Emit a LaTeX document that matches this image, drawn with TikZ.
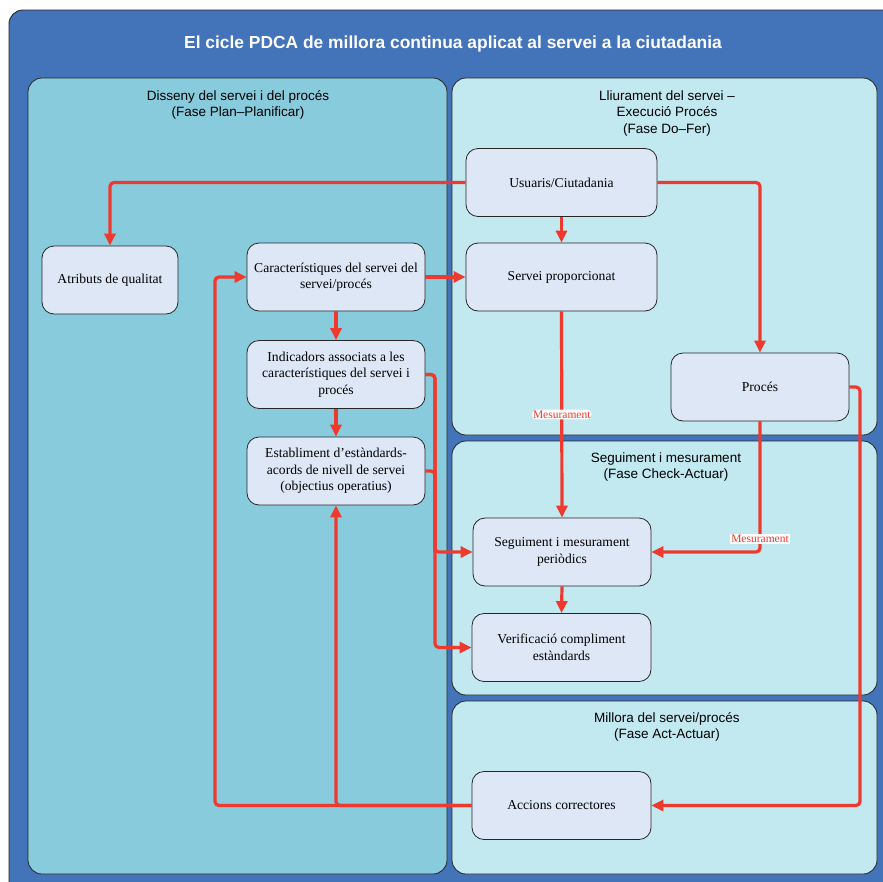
\documentclass[tikz,border=0pt]{standalone}
\usepackage{fontspec}
\setmainfont{Liberation Serif}
\newfontfamily\headfont{Liberation Sans}
\usetikzlibrary{arrows.meta}

\definecolor{frameblue}{HTML}{4373B9}
\definecolor{planfill}{HTML}{88CBDC}
\definecolor{phasefill}{HTML}{C2E8F0}
\definecolor{boxfill}{HTML}{DEE7F6}
\definecolor{flowred}{HTML}{EE3A2E}
\definecolor{edge}{HTML}{262626}

\tikzset{
  outerframe/.style={draw=edge, line width=0.9pt, fill=frameblue, rounded corners=14pt},
  planpanel/.style={draw=edge, line width=0.8pt, fill=planfill, rounded corners=14pt},
  phasepanel/.style={draw=edge, line width=0.8pt, fill=phasefill, rounded corners=14pt},
  stepbox/.style={draw=edge, line width=0.8pt, fill=boxfill, rounded corners=12pt,
    minimum height=68pt, align=center, inner sep=2pt,
    font=\fontsize{13.6pt}{16.5pt}\selectfont},
  phasetitle/.style={align=center, font=\headfont\fontsize{13.5pt}{16.5pt}\selectfont, inner sep=0pt},
  maintitle/.style={text=white, font=\headfont\bfseries\fontsize{17.4pt}{20pt}\selectfont},
  flow/.style={draw=flowred, line width=3.2pt, rounded corners=4pt,
    -{Triangle[length=12pt,width=11pt]}},
  feed/.style={draw=flowred, line width=3.2pt, rounded corners=4pt},
  measure/.style={fill=white, text=flowred, inner sep=1pt,
    font=\fontsize{11.5pt}{13pt}\selectfont}
}

\begin{document}
\begin{tikzpicture}[x=1pt,y=-1pt]
\useasboundingbox (0,0) rectangle (883,881);
\clip (0,0) rectangle (883,881);

% frame and phase panels
\draw[outerframe] (9,10) rectangle (905,905);
\node[maintitle] (title) at (453,44) {El cicle PDCA de millora continua aplicat al servei a la ciutadania};

\draw[planpanel] (28,78) rectangle (447,874);
\draw[phasepanel] (452,78) rectangle (877,435);
\draw[phasepanel] (452,441) rectangle (877,695);
\draw[phasepanel] (452,701) rectangle (877,874);

\node[phasetitle] (tplan) at (238,105) {Disseny del servei i del procés\\(Fase Plan–Planificar)};
\node[phasetitle] (tdo) at (667,113.5) {Lliurament del servei –\\Execució Procés\\(Fase Do–Fer)};
\node[phasetitle] (tcheck) at (666,467) {Seguiment i mesurament\\(Fase Check-Actuar)};
\node[phasetitle] (tact) at (667,727) {Millora del servei/procés\\(Fase Act-Actuar)};

% steps
\node[stepbox, minimum width=136pt] (atr) at (110,280) {Atributs de qualitat};
\node[stepbox, minimum width=178pt] (car) at (336,277) {Característiques del servei del\\servei/procés};
\node[stepbox, minimum width=178pt] (ind) at (336,374.5) {Indicadors associats a les\\característiques del servei i\\procés};
\node[stepbox, minimum width=178pt] (est) at (336,471) {Establiment d’estàndards-\\acords de nivell de servei\\(objectius operatius)};
\node[stepbox, minimum width=191pt] (usu) at (561.5,182.5) {Usuaris/Ciutadania};
\node[stepbox, minimum width=191pt] (srv) at (561.5,277) {Servei proporcionat};
\node[stepbox, minimum width=178pt] (proc) at (760,387) {Procés};
\node[stepbox, minimum width=178pt] (seg) at (562,552) {Seguiment i mesurament\\periòdics};
\node[stepbox, minimum width=179pt] (ver) at (561.5,647.5) {Verificació compliment\\estàndards};
\node[stepbox, minimum width=179pt] (acc) at (561.5,805.5) {Accions correctores};

% junction points of the shared lines
\coordinate (busR) at (435,0);
\coordinate (busL) at (215,0);
\coordinate (busR2) at (860,0);

% connectors
\draw[flow] (usu.west) -| (atr.north);
\draw[flow] (usu.east) -| (proc.north);
\draw[flow] (usu.south) -- (srv.north);
\draw[flow] (car.east) -- (srv.west);
\draw[flow] (car.south) -- (ind.north);
\draw[flow] (ind.south) -- (est.north);
\draw[flow] (srv.south) -- node[measure, pos=0.5] (m1) {Mesurament} (seg.north);
\draw[flow] (proc.south) |- (seg.east);
\node[measure] (m2) at (760,539) {Mesurament};
\draw[flow] (ind.east) -| (busR |- seg.west) -- (seg.west);
\draw[flow] (ind.east) -| (busR |- ver.west) -- (ver.west);
\draw[feed] (est.east) -| (busR |- seg.west);
\draw[flow] (seg.south) -- (ver.north);
\draw[flow] (proc.east) -| (busR2 |- acc.east) -- (acc.east);
\draw[flow] (acc.west) -| (busL |- car.west) -- (car.west);
\draw[flow] (acc.west) -| (est.south);
\end{tikzpicture}
\end{document}
